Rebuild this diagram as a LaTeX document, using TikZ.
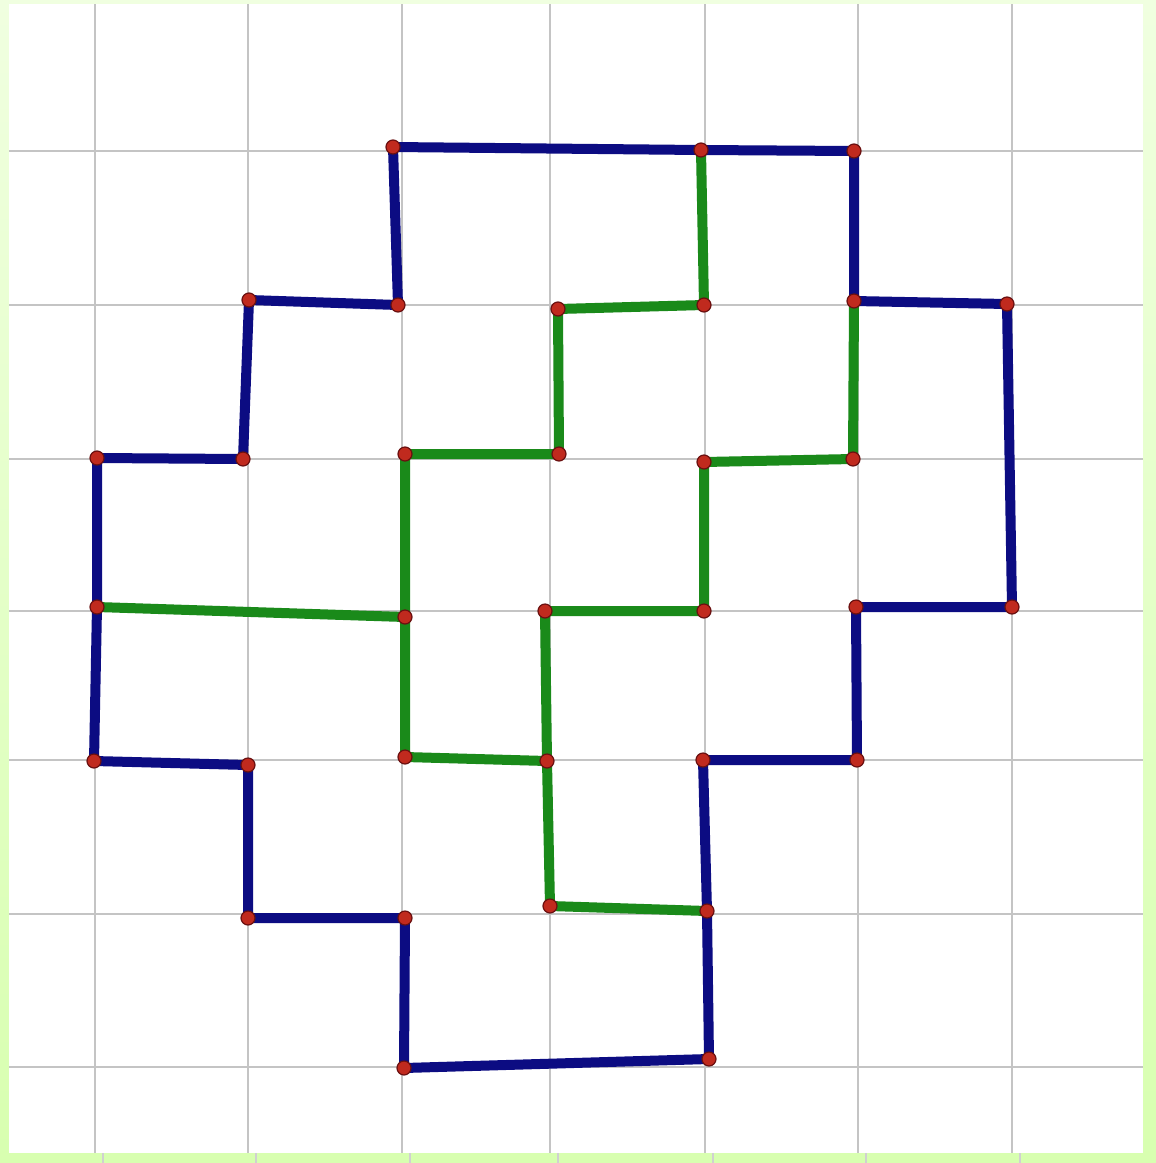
\documentclass[tikz,border=0pt]{standalone}
\definecolor{bordlight}{HTML}{F0FFE0}
\definecolor{borddark}{HTML}{D8FFB0}
\definecolor{gridgrey}{HTML}{C4C4C4}
\definecolor{outblue}{HTML}{0C0C82}
\definecolor{ingreen}{HTML}{1A8A1A}
\definecolor{dotred}{HTML}{C02A1E}
\definecolor{dotrim}{HTML}{6A1010}
\tikzset{
  gridline/.style={draw=gridgrey, line width=2pt},
  tickline/.style={draw=gridgrey!80, line width=2pt},
  outedge/.style={draw=outblue, line width=10pt, line cap=round, line join=round},
  inedge/.style={draw=ingreen, line width=10pt, line cap=round, line join=round},
  vdot/.style={circle, inner sep=0pt, minimum size=15pt},
}
\begin{document}
\begin{tikzpicture}[x=1pt,y=-1pt]
\useasboundingbox (0,0) rectangle (1156,1163);
\shade[top color=bordlight, bottom color=borddark] (0,0) rectangle (1156,1163);
\fill[white] (9,4) rectangle (1143,1153);
% grid
\foreach \gx in {95,248,402,550,705,858,1012} {
  \draw[gridline] (\gx,4) -- (\gx,1153);
  \draw[tickline] (\gx+8,1153) -- (\gx+8,1163);
}
\foreach \gy in {151,305,459,611,760,914,1067} {
  \draw[gridline] (9,\gy) -- (1143,\gy);
}
% outer vertices
\node[vdot] (A1) at (393,147) {};
\node[vdot] (A2) at (701,150) {};
\node[vdot] (A3) at (854,151) {};
\node[vdot] (A4) at (854,301) {};
\node[vdot] (A5) at (1007,304) {};
\node[vdot] (A6) at (1012,607) {};
\node[vdot] (A7) at (856,607) {};
\node[vdot] (A8) at (857,760) {};
\node[vdot] (A9) at (703,760) {};
\node[vdot] (A10) at (707,911) {};
\node[vdot] (A11) at (709,1059) {};
\node[vdot] (A12) at (404,1068) {};
\node[vdot] (A13) at (405,918) {};
\node[vdot] (A14) at (248,918) {};
\node[vdot] (A15) at (248,765) {};
\node[vdot] (A16) at (94,761) {};
\node[vdot] (A17) at (97,607) {};
\node[vdot] (A18) at (97,458) {};
\node[vdot] (A19) at (243,459) {};
\node[vdot] (A20) at (249,300) {};
\node[vdot] (A21) at (398,305) {};
% inner vertices
\node[vdot] (G1) at (704,305) {};
\node[vdot] (G2) at (558,309) {};
\node[vdot] (G3) at (559,454) {};
\node[vdot] (G4) at (405,454) {};
\node[vdot] (G5) at (405,617) {};
\node[vdot] (G6) at (405,757) {};
\node[vdot] (G7) at (547,761) {};
\node[vdot] (G8) at (545,611) {};
\node[vdot] (G9) at (704,611) {};
\node[vdot] (G10) at (704,462) {};
\node[vdot] (G11) at (853,459) {};
\node[vdot] (G12) at (550,906) {};
% edges
\path[inedge] (A2.center) -- (G1.center) -- (G2.center) -- (G3.center) -- (G4.center) -- (G5.center) -- (G6.center) -- (G7.center) -- (G8.center) -- (G9.center) -- (G10.center) -- (G11.center) -- (A4.center);
\path[inedge] (A17.center) -- (G5.center);
\path[inedge] (G7.center) -- (G12.center) -- (A10.center);
\path[outedge] (A1.center) -- (A2.center) -- (A3.center) -- (A4.center) -- (A5.center) -- (A6.center) -- (A7.center) -- (A8.center) -- (A9.center) -- (A10.center) -- (A11.center) -- (A12.center) -- (A13.center) -- (A14.center) -- (A15.center) -- (A16.center) -- (A17.center) -- (A18.center) -- (A19.center) -- (A20.center) -- (A21.center) -- cycle;
% dots on top
\foreach \n in {A1,A2,A3,A4,A5,A6,A7,A8,A9,A10,A11,A12,A13,A14,A15,A16,A17,A18,A19,A20,A21,G1,G2,G3,G4,G5,G6,G7,G8,G9,G10,G11,G12} {
  \fill[dotred, draw=dotrim, line width=1.2pt] (\n.center) circle (7pt);
}
\end{tikzpicture}
\end{document}
